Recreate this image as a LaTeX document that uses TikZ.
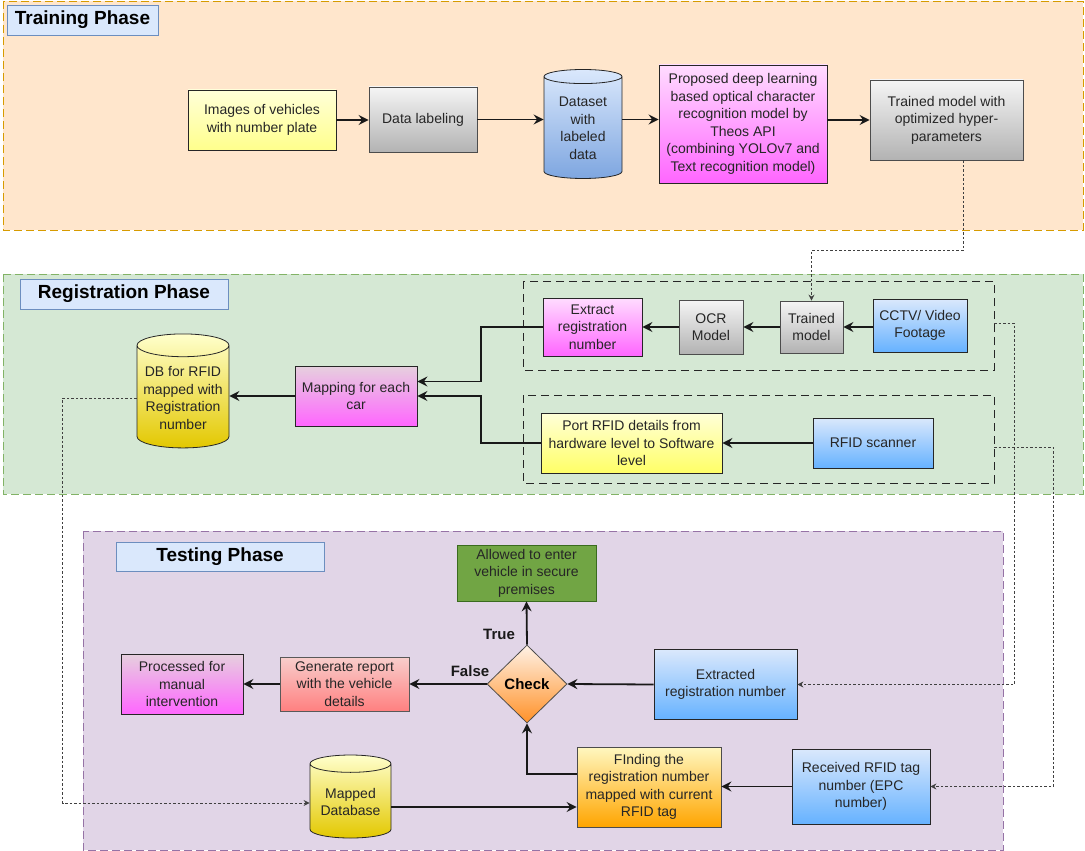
\documentclass[tikz,border=0pt]{standalone}
\usepackage{fontspec}
\setmainfont{Liberation Sans}
\usetikzlibrary{shapes.geometric,arrows.meta}

\definecolor{trainfill}{HTML}{FFE6CC}
\definecolor{traindraw}{HTML}{D79B00}
\definecolor{regfill}{HTML}{D5E8D4}
\definecolor{regdraw}{HTML}{82B366}
\definecolor{testfill}{HTML}{E1D5E7}
\definecolor{testdraw}{HTML}{9673A6}
\definecolor{titlefill}{HTML}{DAE8FC}
\definecolor{titledraw}{HTML}{6C8EBF}
\definecolor{okgreen}{HTML}{71A544}
\definecolor{okdraw}{HTML}{3A6B1E}

\tikzset{
  box/.style={draw=black!85, line width=0.8pt, align=center, inner sep=2pt,
    text=black!85, font=\fontsize{14}{17.5}\selectfont},
  yellowbox/.style={box, top color=yellow!15, bottom color=yellow!45},
  graybox/.style={box, draw=black!70, top color=black!4, bottom color=black!30},
  bluebox/.style={box, top color=titlefill, bottom color={rgb,255:red,102;green,178;blue,255}},
  pinkbox/.style={box, top color={rgb,255:red,255;green,220;blue,255}, bottom color={rgb,255:red,255;green,102;blue,255}},
  cyl/.style={cylinder, shape border rotate=90, aspect=0.28, draw=black!85,
    line width=0.8pt, align=center, inner sep=1pt, text=black!85,
    font=\fontsize{14}{17.5}\selectfont},
  title/.style={draw=titledraw, fill=titlefill, line width=0.8pt,
    font=\bfseries\fontsize{19}{22}\selectfont},
  phase/.style={line width=0.9pt, dash pattern=on 8pt off 4pt},
  group/.style={draw=black!85, line width=1pt, dash pattern=on 8pt off 5pt},
  arr/.style={draw=black!90, line width=1.8pt, -{Stealth[length=10pt,width=10pt,inset=3.5pt]}},
  dots/.style={draw=black!75, line width=0.9pt, dash pattern=on 2.5pt off 2pt,
    -{Stealth[length=6pt,width=6pt,inset=2pt]}},
  tag/.style={font=\bfseries\fontsize{15}{18}\selectfont, text=black!90},
}

\begin{document}
\begin{tikzpicture}[x=1pt, y=-1pt]
\useasboundingbox (0,0) rectangle (1085,851);

% phases
\draw[phase, draw=traindraw, fill=trainfill] (3,1) rectangle (1083,230);
\draw[phase, draw=regdraw, fill=regfill] (3,274) rectangle (1083,494);
\draw[phase, draw=testdraw, fill=testfill] (83,531) rectangle (1003,850);

\node[title, minimum width=151, minimum height=30] (ttrain) at (82.5,20) {Training Phase};
\node[title, minimum width=208, minimum height=30] (treg) at (124,294) {Registration Phase};
\node[title, minimum width=208, minimum height=29] (ttest) at (220,556.5) {Testing Phase};

% training phase
\node[yellowbox, minimum width=148, minimum height=60] (img) at (262,120) {Images of vehicles\\with number plate};
\node[graybox, minimum width=108, minimum height=65] (lab) at (423,119.5) {Data labeling};
\node[cyl, top color=titlefill, bottom color={rgb,255:red,126;green,166;blue,224}, minimum width=78, minimum height=109] (ds) at (583,128.5) {Dataset\\with\\labeled\\data};
\node[pinkbox, minimum width=168, minimum height=118] (ocr) at (743,124) {Proposed deep learning\\based optical character\\recognition model by\\Theos API\\(combining YOLOv7 and\\Text recognition model)};
\node[graybox, minimum width=153, minimum height=80] (tm) at (946.5,120) {Trained model with\\optimized hyper-\\parameters};

\draw[arr] (img.east) -- (img.east -| lab.west);
\draw[arr] (lab.east) -- (lab.east -| ds.west);
\draw[arr] (lab.east -| ds.east) -- (lab.east -| ocr.west);
\draw[arr] (tm.west -| ocr.east) -- (tm.west);

% registration phase
\draw[group] (523,281) rectangle (994,370) node[coordinate] (g1) {};
\draw[group] (523,395) rectangle (994,483) node[coordinate] (g2) {};
\coordinate (g1e) at (994,323);
\coordinate (g2e) at (994,447);

\node[pinkbox, minimum width=99, minimum height=58] (ext) at (592.5,327) {Extract\\registration\\number};
\node[graybox, minimum width=64, minimum height=54] (ocrm) at (711,327) {OCR\\Model};
\node[graybox, minimum width=63, minimum height=52] (trm) at (811.5,327) {Trained\\model};
\node[bluebox, minimum width=94, minimum height=53] (cctv) at (920,325.5) {CCTV/ Video\\Footage};
\node[yellowbox, bottom color=yellow!60, minimum width=181, minimum height=60] (port) at (631.5,443) {Port RFID details from\\hardware level to Software\\level};
\node[bluebox, minimum width=120, minimum height=50] (scan) at (873,443) {RFID scanner};
\node[box, top color={rgb,255:red,230;green,208;blue,222}, bottom color={rgb,255:red,255;green,102;blue,255}, minimum width=122, minimum height=60] (map) at (356,396) {Mapping for each\\car};
\node[cyl, top color=yellow!20, bottom color={rgb,255:red,227;green,200;blue,0}, minimum width=92, minimum height=114] (db) at (183,398) {DB for RFID\\mapped with\\Registration\\number};

\draw[dots] ([xshift=16.5pt]tm.south) -- ++(0,90) -| (trm.north);
\draw[arr] (cctv.west |- trm.east) -- (trm.east);
\draw[arr] (trm.west) -- (ocrm.east);
\draw[arr] (ocrm.west) -- (ext.east);
\draw[arr] (scan.west) -- (port.east);
\draw[arr] (ext.west) -- ++(-62,0) |- ([yshift=14.5pt]map.east);
\draw[arr] (port.west) -- ++(-60,0) |- (map.east);
\draw[arr] (map.west) -- (map.west -| db.east);

% testing phase
\node[box, fill=okgreen, draw=okdraw, minimum width=139, minimum height=56] (allow) at (526.5,573) {Allowed to enter\\vehicle in secure\\premises};
\node[diamond, draw=black!70, line width=0.8pt, inner sep=0pt, top color={rgb,255:red,255;green,242;blue,230}, bottom color={rgb,255:red,255;green,145;blue,40}, minimum width=80, minimum height=78, font=\bfseries\fontsize{15}{18}\selectfont] (chk) at (527,684) {Check};
\node[box, draw=black!65, top color={rgb,255:red,248;green,206;blue,204}, bottom color={rgb,255:red,255;green,128;blue,128}, minimum width=129, minimum height=54] (gen) at (344.5,684) {Generate report\\with the vehicle\\details};
\node[box, top color={rgb,255:red,230;green,208;blue,222}, bottom color={rgb,255:red,255;green,102;blue,255}, minimum width=122, minimum height=60] (proc) at (182,684) {Processed for\\manual\\intervention};
\node[bluebox, minimum width=143, minimum height=70] (xrn) at (725.5,684.5) {Extracted\\registration number};
\node[box, draw=black!70, top color={rgb,255:red,255;green,247;blue,192}, bottom color={rgb,255:red,255;green,165;blue,0}, minimum width=144, minimum height=80] (find) at (649,787) {FInding the\\registration number\\mapped with current\\RFID tag};
\node[bluebox, minimum width=138, minimum height=75] (rcv) at (861,786.5) {Received RFID tag\\number (EPC\\number)};
\node[cyl, top color=yellow!20, bottom color={rgb,255:red,227;green,200;blue,0}, minimum width=81, minimum height=83] (mdb) at (350.5,802) {Mapped\\Database};

\node[tag] (ltrue) at (499,634) {True};
\node[tag] (lfalse) at (470,671) {False};

\draw[arr] (xrn.west) -- (chk.east);
\draw[arr] (chk.west) -- (gen.east);
\draw[arr] (gen.west) -- (proc.east);
\draw[arr] (chk.north) -- (allow.south);
\draw[arr] ([yshift=13pt]find.west) -| (chk.south);
\draw[arr] ([yshift=-5pt]mdb.east) -- ([yshift=-5pt]mdb.east -| find.west);
\draw[arr] (rcv.west) -- (rcv.west -| find.east);

% dotted links between phases
\draw[dots] (db.west) -- ++(-74,0) |- ([yshift=-1pt]mdb.west);
\draw[dots] (g1e) -- ++(20,0) |- (xrn.east);
\draw[dots] (g2e) -- ++(59,0) |- (rcv.east);
\end{tikzpicture}
\end{document}
